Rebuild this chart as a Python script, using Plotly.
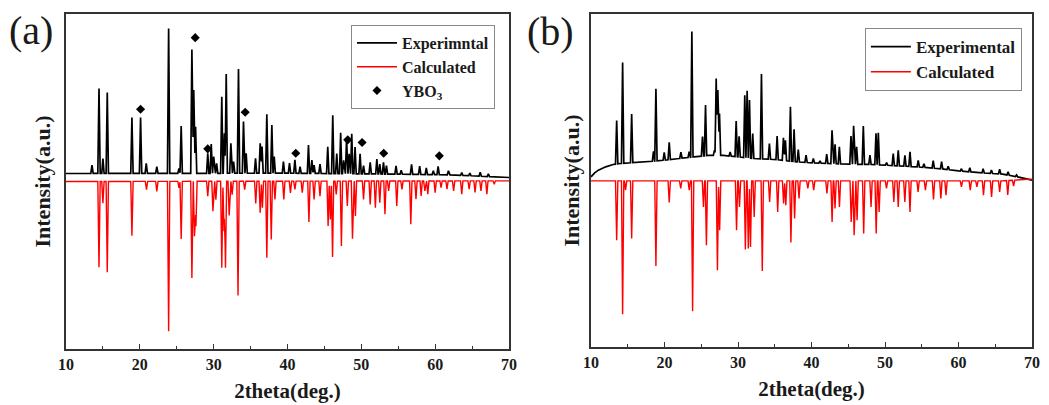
import numpy as np
import plotly.graph_objects as go

# ---------------- Panel (a) data (intensity in arbitrary units) ----------------
a_exp_bg_x = [10, 40, 55, 62, 67, 70]
a_exp_bg_y = [527, 528, 525, 523, 518, 515]
a_exp_pos = [13.52, 14.47, 15.0, 15.59, 18.93, 20.1, 20.87, 22.3, 23.9, 25.3, 25.6,
             27.05, 27.3, 27.55, 29.2, 29.67, 30.0, 30.4, 31.1, 31.45, 31.7, 32.33,
             32.7, 33.36, 34.04, 34.4, 35.67, 36.3, 36.55, 37.2, 37.88, 38.2, 39.45,
             40.27, 41.0, 41.7, 42.84, 43.3, 43.6, 44.4, 45.45, 46.13, 46.67, 47.2,
             47.6, 48.0, 48.35, 48.7, 49.15, 49.83, 50.3, 51.2, 52.1, 52.5, 53.0,
             53.4, 54.7, 55.4, 56.8, 57.9, 58.8, 59.75, 60.4, 61.8, 63.6, 64.7,
             66.1, 67.2]
a_exp_h = [25, 255, 45, 243, 168, 168, 30, 20, 435, 15, 142,
           372, 250, 140, 60, 88, 50, 30, 230, 120, 298, 90,
           35, 313, 155, 60, 45, 90, 80, 177, 145, 50, 35,
           30, 40, 20, 85, 40, 25, 28, 80, 175, 60, 123,
           40, 105, 60, 120, 80, 60, 25, 35, 45, 30, 35,
           25, 25, 12, 30, 25, 20, 12, 25, 12, 8, 8,
           12, 8]
a_calc_bg_x = [10, 70]
a_calc_bg_y = [503, 505]
a_calc_pos = [14.47, 15.0, 15.59, 18.93, 20.9, 22.3, 23.9, 25.3, 25.6, 27.05, 27.4,
              27.6, 29.2, 29.9, 30.3, 31.1, 31.4, 31.6, 32.1, 32.5, 33.3, 34.2,
              35.7, 36.3, 36.6, 37.2, 37.8, 38.3, 39.5, 40.4, 41.0, 42.0, 42.9,
              43.6, 44.4, 45.5, 45.8, 46.1, 46.6, 47.3, 48.1, 48.8, 49.2, 50.3,
              51.2, 51.9, 52.5, 53.2, 53.7, 54.8, 55.5, 56.7, 57.4, 58.1, 58.6,
              59.0, 60.0, 60.8, 61.6, 62.5, 63.6, 64.6, 65.4, 66.2, 67.0, 68.0]
a_calc_depth = [258, 65, 273, 163, 25, 30, 450, 20, 173, 290, 165,
                135, 45, 90, 55, 260, 150, 260, 103, 40, 343, 25,
                67, 95, 80, 230, 175, 55, 55, 35, 25, 35, 123,
                55, 45, 135, 115, 228, 40, 195, 75, 173, 105, 55,
                70, 80, 65, 100, 30, 75, 25, 130, 55, 45, 30,
                40, 35, 20, 25, 30, 40, 25, 35, 30, 40, 10]
a_ybo3_x = [20.1, 27.5, 29.2, 34.27, 41.12, 48.16, 50.1, 53.03, 60.56]
a_ybo3_y = [720, 935, 601, 711, 588, 628, 620, 588, 580]

# ---------------- Panel (b) data ----------------
b_exp_bg_x = [10, 10.5, 11, 12, 13, 14, 16, 18, 20, 22, 24, 26, 28, 30, 32, 35, 38,
              40, 42, 45, 48, 50, 55, 58, 60, 63, 66, 68, 70]
b_exp_bg_y = [510, 522, 530, 540, 547, 550, 553, 556, 560, 565, 570, 574, 574, 570,
              565, 562, 555, 552, 550, 548, 547, 545, 539, 533, 528, 522, 518, 510, 500]
b_exp_pos = [13.49, 14.3, 15.53, 18.5, 18.83, 19.96, 20.64, 22.23, 23.36, 23.72, 25.17,
             25.58, 26.8, 27.03, 27.25, 27.48, 28.93, 29.75, 30.15, 30.92, 31.24, 31.56,
             32.0, 33.19, 34.27, 35.32, 36.18, 36.45, 37.13, 37.63, 38.2, 39.26, 40.25,
             41.16, 42.07, 42.79, 43.2, 43.79, 45.37, 45.73, 46.14, 47.05, 47.95, 48.77,
             49.09, 50.22, 51.12, 51.8, 52.71, 53.4, 54.52, 55.3, 56.56, 57.7, 58.6,
             60.4, 61.54, 63.35, 64.48, 65.6, 66.75, 67.9]
b_exp_h = [130, 302, 146, 29, 216, 23, 52, 18, 17, 376, 58,
           152, 16, 231, 196, 126, 12, 107, 62, 187, 201, 174,
           75, 254, 47, 71, 68, 61, 163, 97, 37, 22, 13,
           7, 28, 100, 58, 51, 84, 115, 52, 115, 28, 94,
           96, 8, 36, 47, 33, 44, 20, 11, 23, 22, 10,
           7, 12, 13, 10, 14, 10, 5]
b_calc_bg_x = [10, 66, 70]
b_calc_bg_y = [498, 498, 503]
b_calc_pos = [13.49, 14.3, 14.7, 15.53, 18.83, 20.64, 22.2, 23.36, 23.82, 25.3, 25.7,
              27.2, 27.5, 29.8, 30.2, 31.0, 31.4, 31.7, 32.2, 33.3, 34.3, 35.4,
              36.2, 36.5, 37.2, 37.7, 38.3, 39.5, 40.3, 42.1, 42.8, 43.2, 43.8,
              45.4, 45.8, 46.2, 47.1, 48.1, 48.8, 49.2, 50.2, 51.2, 51.8, 52.7,
              53.4, 54.5, 55.5, 56.6, 57.6, 58.3, 60.4, 61.6, 62.5, 63.4, 64.5,
              65.6, 66.7, 67.5]
b_calc_depth = [178, 400, 28, 173, 255, 65, 23, 28, 391, 78, 193,
                268, 148, 148, 78, 206, 203, 198, 108, 270, 63, 93,
                68, 73, 185, 113, 53, 23, 28, 38, 123, 83, 78,
                123, 163, 118, 158, 78, 158, 93, 23, 63, 78, 63,
                93, 33, 28, 56, 53, 43, 18, 28, 18, 43, 48,
                33, 43, 18]

x_ticks = [10, 20, 30, 40, 50, 60, 70]


def profile(bg_x, bg_y, pos, amp, sign, w=0.16):
    """Piecewise-linear pattern: background plus narrow triangular peaks."""
    pos = np.asarray(pos, float)
    amp = np.asarray(amp, float)
    xs = np.unique(np.concatenate([np.asarray(bg_x, float), pos, pos - w, pos + w]))
    xs = xs[(xs >= 10) & (xs <= 70)]
    ys = np.interp(xs, bg_x, bg_y)
    for p, a in zip(pos, amp):
        ys = ys + sign * a * np.clip(1 - np.abs(xs - p) / w, 0, None)
    return xs, ys


FONT = "Times New Roman, Liberation Serif, serif"
FRAME = "#333333"
TXT = "#1a1a1a"

fig = go.Figure()

ax_x, ay_y = profile(a_exp_bg_x, a_exp_bg_y, a_exp_pos, a_exp_h, +1)
fig.add_trace(go.Scatter(x=ax_x, y=ay_y, mode="lines", name="Experimntal",
                         line=dict(color="black", width=1.7), xaxis="x", yaxis="y",
                         legend="legend"))
cx, cy = profile(a_calc_bg_x, a_calc_bg_y, a_calc_pos, a_calc_depth, -1)
fig.add_trace(go.Scatter(x=cx, y=cy, mode="lines", name="Calculated",
                         line=dict(color="#ff0000", width=1.4), xaxis="x", yaxis="y",
                         legend="legend"))
fig.add_trace(go.Scatter(x=a_ybo3_x, y=a_ybo3_y, mode="markers", name="YBO<sub>3</sub>",
                         marker=dict(symbol="diamond", size=7, color="black"),
                         xaxis="x", yaxis="y", legend="legend"))

bx, by = profile(b_exp_bg_x, b_exp_bg_y, b_exp_pos, b_exp_h, +1)
fig.add_trace(go.Scatter(x=bx, y=by, mode="lines", name="Experimental",
                         line=dict(color="black", width=1.7), xaxis="x2", yaxis="y2",
                         legend="legend2"))
dx, dy = profile(b_calc_bg_x, b_calc_bg_y, b_calc_pos, b_calc_depth, -1)
fig.add_trace(go.Scatter(x=dx, y=dy, mode="lines", name="Calculated",
                         line=dict(color="#ff0000", width=1.4), xaxis="x2", yaxis="y2",
                         legend="legend2"))


def xaxis(domain, anchor):
    return dict(domain=domain, anchor=anchor, range=[10, 70], tickvals=x_ticks,
                automargin=False,
                ticks="inside", ticklen=5, tickwidth=1.3, tickcolor=FRAME,
                minor=dict(dtick=5, tick0=10, ticks="inside", ticklen=3, tickwidth=1.3,
                           tickcolor=FRAME),
                showline=True, mirror=True, linecolor=FRAME, linewidth=1.6,
                showgrid=False, zeroline=False,
                tickfont=dict(family=FONT, size=16, color=TXT, weight="bold"),
                title=dict(text="2theta(deg.)", standoff=11,
                           font=dict(family=FONT, size=21, color=TXT, weight="bold")))


def yaxis(domain, anchor, rng, standoff):
    return dict(domain=domain, anchor=anchor, range=rng, showticklabels=False,
                automargin=False,
                ticks="", showline=True, mirror=True, linecolor=FRAME, linewidth=1.6,
                showgrid=False, zeroline=False,
                title=dict(text="Intensity(a.u.)", standoff=standoff,
                           font=dict(family=FONT, size=22, color=TXT, weight="bold")))


# The page body adds an 8 px offset, so the figure is 8 px smaller in each direction
fig.update_layout(
    width=1041, height=397,
    margin=dict(l=58, r=17, t=6, b=56),
    paper_bgcolor="white", plot_bgcolor="white",
    xaxis=xaxis([0, 0.4586], "y"),
    yaxis=yaxis([0, 1], "x", [0, 1006], 8),
    xaxis2=xaxis([0.5435, 1], "y2"),
    yaxis2=yaxis([0.006, 1], "x2", [0, 998], 4),
    legend=dict(x=0.295, y=0.967, xanchor="left", yanchor="top",
                bordercolor="#888", borderwidth=1, bgcolor="white",
                itemwidth=40, entrywidth=112,
                font=dict(family=FONT, size=16, color=TXT, weight="bold")),
    legend2=dict(x=0.827, y=0.958, xanchor="left", yanchor="top",
                 bordercolor="#888", borderwidth=1, bgcolor="white",
                 itemwidth=40, entrywidth=130,
                 font=dict(family=FONT, size=17, color=TXT, weight="bold")),
    annotations=[
        dict(text="(a)", xref="paper", yref="paper", x=-0.0362, y=0.95,
             xanchor="center", yanchor="middle",
             showarrow=False, font=dict(family=FONT, size=40, color=TXT)),
        dict(text="(b)", xref="paper", yref="paper", x=0.502, y=0.947,
             xanchor="center", yanchor="middle",
             showarrow=False, font=dict(family=FONT, size=40, color=TXT)),
    ],
)

fig.write_html("out.html")
